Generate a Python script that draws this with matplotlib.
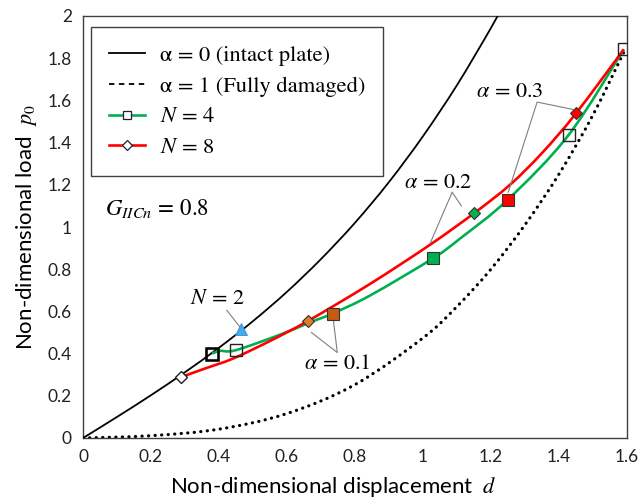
import numpy as np
import matplotlib
matplotlib.use('Agg')
import matplotlib.pyplot as plt
from matplotlib.path import Path
from matplotlib.patches import PathPatch
from matplotlib.lines import Line2D

plt.rcParams['mathtext.fontset'] = 'stix'
plt.rcParams['font.family'] = ['Lato', 'DejaVu Sans']

# alpha = 0, intact plate
intact_d = [0, 0.1, 0.2, 0.3, 0.4, 0.5, 0.6, 0.7, 0.8, 0.9, 1.0, 1.1, 1.2, 1.25]
intact_p = [0, 0.100, 0.203, 0.312, 0.428, 0.554, 0.693, 0.848, 1.020, 1.213, 1.430, 1.672, 1.943, 2.09]

# alpha = 1, fully damaged
damaged_d = [0, 0.2, 0.4, 0.6, 0.8, 1.0, 1.1, 1.2, 1.3, 1.4, 1.5, 1.595]
damaged_p = [0, 0.011, 0.042, 0.116, 0.253, 0.474, 0.623, 0.80, 1.01, 1.25, 1.53, 1.842]

# N = 4 path
n4_d = [0.38, 0.403, 0.449, 0.58, 0.663, 0.734, 0.844, 1.03, 1.109, 1.25, 1.429, 1.591]
n4_p = [0.40, 0.413, 0.416, 0.49, 0.545, 0.59, 0.675, 0.852, 0.945, 1.13, 1.437, 1.842]

# N = 8 path
n8_d = [0.287, 0.36, 0.442, 0.55, 0.663, 0.844, 1.02, 1.151, 1.256, 1.35, 1.451, 1.591]
n8_p = [0.288, 0.33, 0.377, 0.46, 0.556, 0.73, 0.915, 1.066, 1.20, 1.35, 1.54, 1.842]

# open markers at computed states
n4_open_d = [0.38, 0.449, 1.429, 1.591]
n4_open_p = [0.40, 0.416, 1.437, 1.842]
n8_open_d = [0.287]
n8_open_p = [0.288]

# N = 2 onset point
n2_d = [0.466]
n2_p = [0.516]

# damage levels alpha = 0.1, 0.2, 0.3
alpha_labels = ['0.1', '0.2', '0.3']
alpha_colors = ['#C55A11', '#00B050', '#FF0000']
alpha_diamond_colors = ['#E07B28', '#00B050', '#FF0000']
n4_alpha_d = [0.734, 1.03, 1.25]
n4_alpha_p = [0.59, 0.852, 1.13]
n8_alpha_d = [0.663, 1.151, 1.451]
n8_alpha_p = [0.556, 1.066, 1.54]


def smooth_path(xs, ys):
    # Catmull-Rom style cubic Bezier segments through the points
    pts = np.column_stack([xs, ys]).astype(float)
    n = len(pts)
    verts = [pts[0]]
    codes = [Path.MOVETO]
    for i in range(n - 1):
        p0 = pts[i - 1] if i > 0 else pts[i]
        p1 = pts[i]
        p2 = pts[i + 1]
        p3 = pts[i + 2] if i + 2 < n else pts[i + 1]
        verts += [p1 + (p2 - p0) / 6, p2 - (p3 - p1) / 6, p2]
        codes += [Path.CURVE4] * 3
    return Path(verts, codes)


fig = plt.figure(figsize=(6.39, 5.0), dpi=100)
ax = fig.add_axes([0.130, 0.124, 0.851, 0.844])

ax.add_patch(PathPatch(smooth_path(intact_d, intact_p), fill=False,
                       edgecolor='black', lw=1.3, zorder=3))
ax.add_patch(PathPatch(smooth_path(damaged_d, damaged_p), fill=False,
                       edgecolor='black', lw=2.3, linestyle=(0, (0.05, 2.0)),
                       capstyle='round', zorder=3))
ax.add_patch(PathPatch(smooth_path(n4_d, n4_p), fill=False,
                       edgecolor='#00B050', lw=1.9, zorder=4))
ax.add_patch(PathPatch(smooth_path(n8_d, n8_p), fill=False,
                       edgecolor='#FF0000', lw=1.9, zorder=4))

ax.plot(n4_open_d, n4_open_p, ls='none', marker='s', ms=8, mfc='none',
        mec='#222222', mew=1.0, zorder=6)
ax.plot(n4_open_d[:1], n4_open_p[:1], ls='none', marker='s', ms=8, mfc='none',
        mec='black', mew=1.8, zorder=6)
ax.plot(n8_open_d, n8_open_p, ls='none', marker='D', ms=6.5, mfc='white',
        mec='#222222', mew=1.0, zorder=6)
ax.plot(n2_d, n2_p, ls='none', marker='^', ms=9, mfc='#45AAE8',
        mec='#3A8FC8', mew=0.6, zorder=6)

for i in range(len(alpha_labels)):
    ax.plot(n4_alpha_d[i], n4_alpha_p[i], ls='none', marker='s', ms=8.5,
            mfc=alpha_colors[i], mec='#333333', mew=0.8, zorder=7)
    ax.plot(n8_alpha_d[i], n8_alpha_p[i], ls='none', marker='D', ms=6.5,
            mfc=alpha_diamond_colors[i], mec='#333333', mew=0.8, zorder=7)

# leader lines and labels
lead = dict(color='#7f7f7f', lw=0.8, zorder=5)
ax.plot([0.423, 0.462], [0.605, 0.525], **lead)
ax.text(0.394, 0.665, r'$N\,=\,2$', fontsize=16, ha='center', va='center')

ax.plot([0.672, 0.748, 0.736], [0.50, 0.405, 0.566], **lead)
ax.text(0.747, 0.355, r'$\alpha\,=\,0.1$', fontsize=16, ha='center', va='center')

ax.plot([1.021, 1.086, 1.113], [0.922, 1.165, 1.10], **lead)
ax.text(1.045, 1.215, r'$\alpha\,=\,0.2$', fontsize=16, ha='center', va='center')

ax.plot([1.251, 1.336, 1.442], [1.165, 1.592, 1.557], **lead)
ax.text(1.256, 1.645, r'$\alpha\,=\,0.3$', fontsize=16, ha='center', va='center')

ax.text(0.065, 1.09, r'$G_{IICn}\,=\,0.8$', fontsize=16.5, ha='left', va='center')

handles = [
    Line2D([], [], color='black', lw=1.3),
    Line2D([], [], color='black', lw=1.3, linestyle=(0, (3, 2.5))),
    Line2D([], [], color='#00B050', lw=1.9, marker='s', ms=6, mfc='white',
           mec='#222222', mew=0.9),
    Line2D([], [], color='#FF0000', lw=1.9, marker='D', ms=5.5, mfc='white',
           mec='#222222', mew=0.9),
]
labels = ['α = 0 (intact plate)', 'α = 1 (Fully damaged)', r'$N\,=\,4$', r'$N\,=\,8$']
leg = ax.legend(handles, labels, loc='upper left', bbox_to_anchor=(0.0147, 0.974),
                borderaxespad=0, frameon=True, fancybox=False, framealpha=1,
                edgecolor='#404040', prop={'family': 'STIXGeneral', 'size': 16.2},
                handlelength=1.6, handletextpad=0.65, labelspacing=0.45,
                borderpad=0.8)
leg.get_frame().set_linewidth(1.0)
leg.set_zorder(10)

ax.set_xlim(0, 1.6)
ax.set_ylim(0, 2)
ax.set_xticks(np.arange(0, 1.61, 0.2))
ax.set_yticks(np.arange(0, 2.01, 0.2))
ax.set_xticklabels(['0', '0.2', '0.4', '0.6', '0.8', '1', '1.2', '1.4', '1.6'])
ax.set_yticklabels(['0', '0.2', '0.4', '0.6', '0.8', '1', '1.2', '1.4', '1.6', '1.8', '2'])
ax.tick_params(length=0, labelsize=12.5, pad=8, labelcolor='#222222')
for s in ax.spines.values():
    s.set_color('#404040')
    s.set_linewidth(1.0)

ax.set_xlabel(r'Non-dimensional displacement  $d$', fontsize=16, labelpad=4)
ax.set_ylabel(r'Non-dimensional load  $p_0$', fontsize=16, labelpad=6)
ax.xaxis.set_label_coords(0.46, -0.088)

fig.savefig('out.png', dpi=100)
